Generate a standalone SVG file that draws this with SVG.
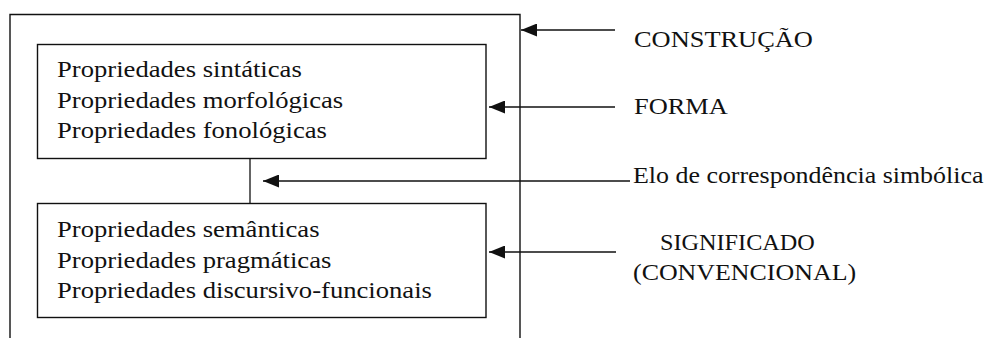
<svg xmlns="http://www.w3.org/2000/svg" width="996" height="338" viewBox="0 0 996 338">
<style>
  .box { fill: none; stroke: #111; stroke-width: 1.4; }
  .ln { fill: none; stroke: #111; stroke-width: 1.3; }
  .t { font-family: 'Liberation Serif', 'Tinos', 'DejaVu Serif', serif; font-size: 24px; fill: #111; }
</style>
<defs>
  <marker id="ah" markerUnits="userSpaceOnUse" markerWidth="16" markerHeight="13" refX="16" refY="6.5" orient="auto">
    <path d="M0,0 L16,6.5 L0,13 Z" fill="#111"/>
  </marker>
</defs>
<rect width="996" height="338" fill="#fff"/>
<g id="construcao">
  <path class="box" d="M10,338 V14.5 H520 V338"/>
  <text class="t" transform="matrix(1.1 0 0 1 634 47)">CONSTRUÇÃO</text>
</g>
<g id="forma">
  <rect class="box" x="37.5" y="44.5" width="448.5" height="114"/>
  <text class="t" transform="matrix(1.11 0 0 1 57 77)">Propriedades sintáticas</text>
  <text class="t" transform="matrix(1.11 0 0 1 57 107.5)">Propriedades morfológicas</text>
  <text class="t" transform="matrix(1.11 0 0 1 57 138)">Propriedades fonológicas</text>
  <text class="t" transform="matrix(1.1 0 0 1 634 114)">FORMA</text>
</g>
<g id="significado">
  <rect class="box" x="37.5" y="203.5" width="448.5" height="114"/>
  <text class="t" transform="matrix(1.11 0 0 1 57 237)">Propriedades semânticas</text>
  <text class="t" transform="matrix(1.11 0 0 1 57 267.5)">Propriedades pragmáticas</text>
  <text class="t" transform="matrix(1.11 0 0 1 57 298)">Propriedades discursivo-funcionais</text>
  <text class="t" transform="matrix(1.01 0 0 1 660 250)">SIGNIFICADO</text>
  <text class="t" transform="matrix(1.08 0 0 1 633 280)">(CONVENCIONAL)</text>
</g>
<g id="elo">
  <text class="t" transform="matrix(1.08 0 0 1 633 183)">Elo de correspondência simbólica</text>
</g>
<g id="connectors">
  <line class="ln" x1="250" y1="158.5" x2="250" y2="203.5"/>
  <line class="ln" x1="615" y1="30" x2="521" y2="30" marker-end="url(#ah)"/>
  <line class="ln" x1="615" y1="107" x2="489" y2="107" marker-end="url(#ah)"/>
  <line class="ln" x1="630" y1="181" x2="263" y2="181" marker-end="url(#ah)"/>
  <line class="ln" x1="616" y1="252" x2="489" y2="252" marker-end="url(#ah)"/>
</g>
</svg>
